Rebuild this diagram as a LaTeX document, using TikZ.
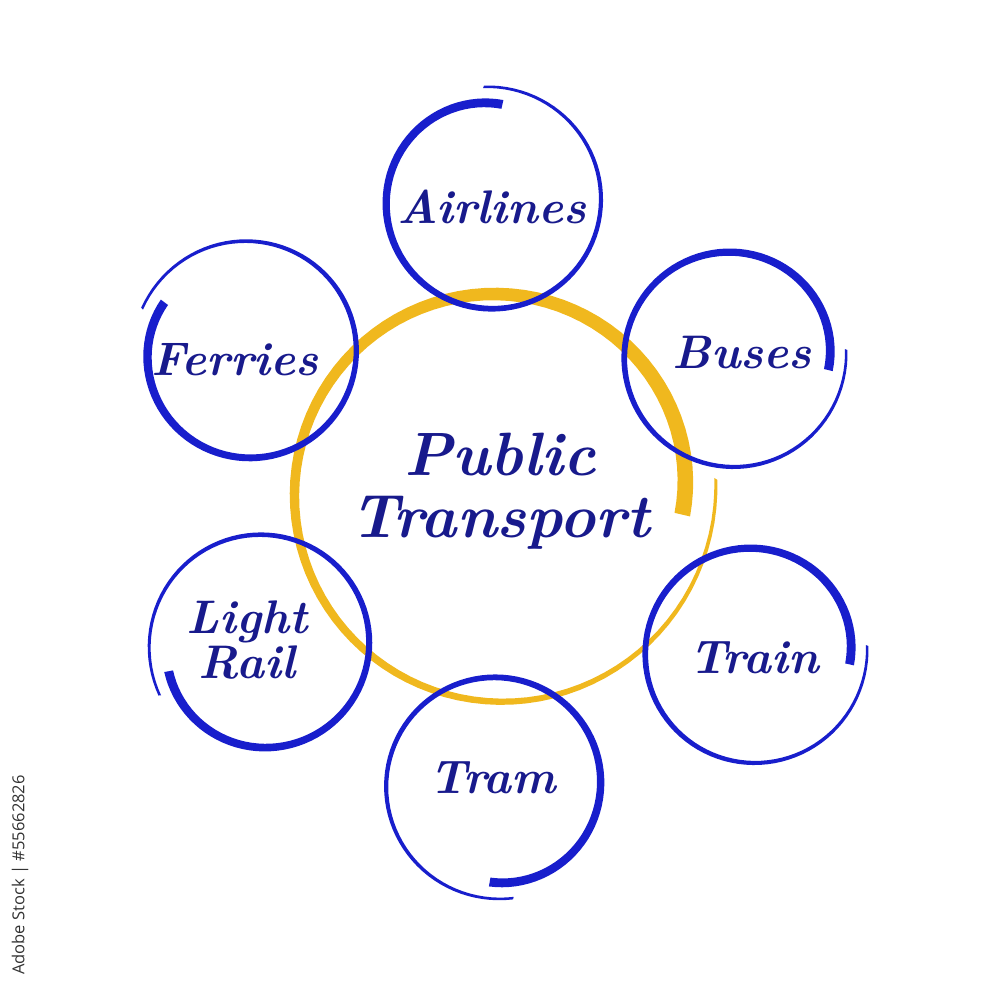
\documentclass[tikz,border=0pt]{standalone}
\usepackage{fontspec}
\usepackage{tikz}
\newfontfamily\stockfont{Open Sans}
\definecolor{ringB}{RGB}{24,30,204}
\definecolor{textB}{RGB}{24,26,140}
\definecolor{ringY}{RGB}{240,184,30}
% brush ring: centre, colour, radius, start angle, sweep, start width, end width
\newcommand{\brushring}[7]{%
  \fill[#2,shift={(#1)}] plot[domain=0:1,samples=100,variable=\t]
    ({#4+#5*\t}:{#3*(1-0.1*(1-\t)^4+0.06*\t^4)+(#6+(#7-#6)*\t)/2})
    -- plot[domain=1:0,samples=100,variable=\t]
    ({#4+#5*\t}:{#3*(1-0.1*(1-\t)^4+0.06*\t^4)-(#6+(#7-#6)*\t)/2}) -- cycle;}

\begin{document}
\begin{tikzpicture}[x=0.01cm,y=0.01cm,
  lbl/.style={text=textB,font=\fontsize{13.4}{12.8}\selectfont\bfseries\itshape,align=center},
  hub/.style={text=textB,font=\fontsize{17.4}{17.5}\selectfont\bfseries\itshape,align=center}]
\useasboundingbox (0,0) rectangle (1000,1000);
\coordinate (cHub) at (499,507);
\coordinate (cAir) at (491,799); \coordinate (cBus) at (732,643);
\coordinate (cTrn) at (753,347); \coordinate (cTrm) at (496,215);
\coordinate (cLig) at (262,356); \coordinate (cFer) at (248,648);
\brushring{cHub}{ringY}{205}{-7}{371}{16}{3}
\brushring{cAir}{ringB}{108}{83}{371}{9}{2.5}
\brushring{cBus}{ringB}{108}{-8}{372}{9}{2.5}
\brushring{cTrn}{ringB}{108}{-7}{371}{9}{2.5}
\brushring{cTrm}{ringB}{108}{266}{373}{9}{2.5}
\brushring{cLig}{ringB}{108}{196}{371}{9}{2.5}
\brushring{cFer}{ringB}{108}{149}{369}{9}{2.5}
\node[hub] (hub) at (500,509) {Public\\Transport};
\node[lbl] (air) at (492,793) {Airlines};
\node[lbl] (bus) at (742,647) {Buses};
\node[lbl] (trn) at (754,342) {Train};
\node[lbl] (trm) at (493,222) {Tram};
\node[lbl] (lig) at (247,360) {Light\\Rail};
\node[lbl] (fer) at (235,640) {Ferries};
\node[rotate=90,font=\stockfont\fontsize{4.7}{5}\selectfont,text=black!80] (mark) at (20,125) {Adobe Stock | \#55662826};
\end{tikzpicture}
\end{document}
